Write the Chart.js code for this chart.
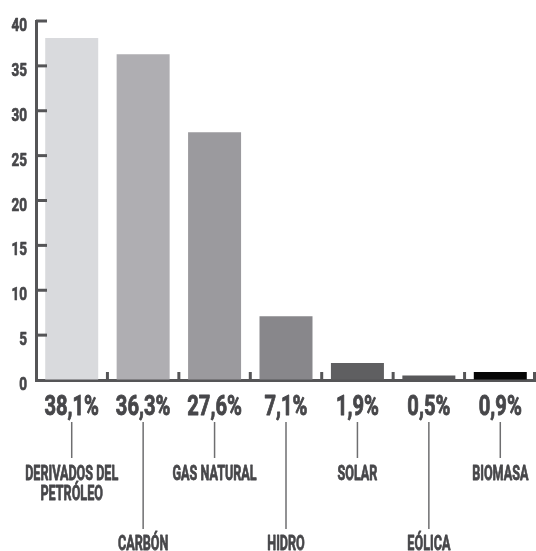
<!DOCTYPE html>
<html><head><meta charset="utf-8">
<script src="https://cdn.jsdelivr.net/npm/chart.js@4"></script>
<style>html,body{margin:0;padding:0;background:#fff}</style>
</head><body>
<canvas id="c" width="536" height="551"></canvas>
<script>
const categories = [["DERIVADOS DEL","PETRÓLEO"],["CARBÓN"],["GAS NATURAL"],["HIDRO"],["SOLAR"],["EÓLICA"],["BIOMASA"]];
const shares = [38.1, 36.3, 27.6, 7.1, 1.9, 0.5, 0.9];
const shareLabels = ["38,1%","36,3%","27,6%","7,1%","1,9%","0,5%","0,9%"];
const barColors = ["#d9dadd","#afaeb2","#9b9a9e","#88878b","#5f5f61","#58585a","#060606"];
const yMin = 0, yMax = 40, yStep = 5;

const INK = "#47474a";
const AXIS = "#555557";
const FONT = "Roboto, 'DejaVu Sans', sans-serif";

function squeezedText(ctx, text, x, y, sx, align, bold) {
  ctx.save();
  ctx.translate(x, y);
  ctx.scale(sx, 1);
  ctx.textAlign = align;
  ctx.fillText(text, 0, 0);
  ctx.lineWidth = bold; ctx.strokeStyle = ctx.fillStyle; ctx.lineJoin = 'round';
  ctx.strokeText(text, 0, 0);
  ctx.restore();
}

const decor = {
  id: 'decor',
  afterDraw(chart) {
    const ctx = chart.ctx, ca = chart.chartArea;
    const xs = chart.scales.x, ys = chart.scales.y;
    ctx.save();
    ctx.strokeStyle = AXIS; ctx.lineWidth = 3; ctx.lineCap = 'butt';
    // inward y ticks
    ys.ticks.forEach(t => {
      if (t.value === yMin) return;
      const y = ys.getPixelForValue(t.value);
      ctx.beginPath(); ctx.moveTo(ca.left, y); ctx.lineTo(ca.left + 11, y); ctx.stroke();
    });
    // upward x ticks at category boundaries
    const half = (xs.getPixelForValue(1) - xs.getPixelForValue(0)) / 2;
    for (let i = 0; i < categories.length; i++) {
      const x = Math.min(xs.getPixelForValue(i) + half, ca.right - 1.5);
      ctx.beginPath(); ctx.moveTo(x, ca.bottom); ctx.lineTo(x, ca.bottom - 8); ctx.stroke();
    }
    ctx.fillStyle = INK;
    ctx.textBaseline = 'alphabetic';
    // y tick labels
    ctx.font = "bold 18px " + FONT;
    ys.ticks.forEach(t => {
      const y = ys.getPixelForValue(t.value);
      squeezedText(ctx, String(t.value), ca.left - 9, y + 10, 0.75, 'right', 0.7);
    });
    // share labels under axis
    ctx.font = "bold 28px " + FONT;
    shareLabels.forEach((s, i) => {
      squeezedText(ctx, s, xs.getPixelForValue(i), 415, 0.72, 'center', 0.9);
    });
    // leader lines and category names
    ctx.strokeStyle = "#6e6e70"; ctx.lineWidth = 1.5;
    ctx.font = "bold 21px " + FONT;
    categories.forEach((lines, i) => {
      const x = xs.getPixelForValue(i);
      const low = i % 2 === 1;
      const y0 = 422, y1 = low ? 529 : 458, ty = low ? 550 : 480;
      ctx.beginPath(); ctx.moveTo(x, y0); ctx.lineTo(x, y1); ctx.stroke();
      lines.forEach((t, k) => squeezedText(ctx, t, x, ty + k * 20, 0.6, 'center', 0.8));
    });
    ctx.restore();
  }
};

new Chart(document.getElementById('c'), {
  type: 'bar',
  data: {
    labels: categories.map(c => c.join(' ')),
    datasets: [{
      data: shares,
      backgroundColor: barColors,
      borderWidth: 0,
      barPercentage: 0.742,
      categoryPercentage: 1.0
    }]
  },
  options: {
    responsive: false,
    animation: false,
    devicePixelRatio: 1,
    layout: { padding: { top: 21, right: 0, bottom: 0, left: 0 } },
    plugins: { legend: { display: false }, tooltip: { enabled: false } },
    scales: {
      x: {
        grid: { display: true, drawOnChartArea: false, drawTicks: false },
        border: { display: true, color: AXIS, width: 3 },
        ticks: { display: false },
        afterFit(s) { s.height = 171; }
      },
      y: {
        min: yMin, max: yMax,
        grid: { display: true, drawOnChartArea: false, drawTicks: false },
        border: { display: true, color: AXIS, width: 3 },
        ticks: { display: false, stepSize: yStep },
        afterFit(s) { s.width = 36; }
      }
    }
  },
  plugins: [decor]
});
</script>
</body></html>
